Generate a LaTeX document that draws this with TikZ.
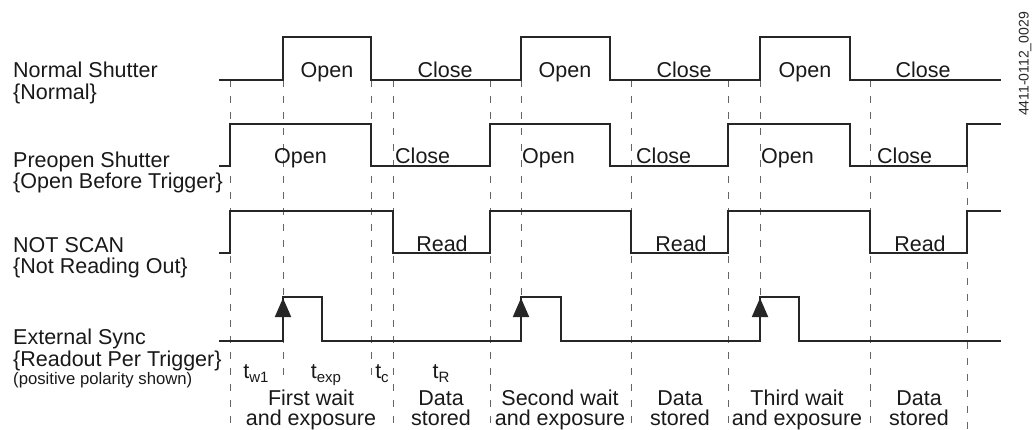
\documentclass[tikz,border=0pt]{standalone}
\usepackage{fontspec}
\setmainfont{Liberation Sans}
\usetikzlibrary{arrows.meta}
\def\tsub#1{t\raisebox{-4pt}{\fontsize{15}{15}\selectfont #1}}
\tikzset{
	sig/.style={line width=1.9pt, color=black!85, line join=miter},
	guide/.style={line width=0.9pt, color=black!60, dash pattern=on 7pt off 9pt},
	txt/.style={inner sep=0pt, anchor=base, text=black!90, font=\fontsize{21.5}{22}\selectfont},
	lefttxt/.style={txt, anchor=base west},
	trig/.style={line width=1.9pt, color=black!85, -{Triangle[length=19pt,width=16pt]}}
}

\begin{document}
\begin{tikzpicture}[x=1pt, y=-1pt]
		%%%%% START %%%%%
		\useasboundingbox (0, 0) rectangle (1032, 429);
		
		% dashed time marks
		\foreach \xm in {230, 393, 490, 631, 728, 870}
			\draw[guide] (\xm, 80) -- (\xm, 429);
		\draw[guide] (967, 166) -- (967, 429);
		\draw[guide] (283, 80) -- (283, 377);
		\draw[guide] (371, 80) -- (371, 377);
		\draw[guide] (521, 80) -- (521, 297);
		\draw[guide] (760, 80) -- (760, 297);
		
		% signals
		\draw[sig] (219, 80) -- (283, 80) -- (283, 37) -- (371, 37) -- (371, 80) -- (521, 80) -- (521, 37) -- (610, 37) -- (610, 80) -- (760, 80) -- (760, 37) -- (850, 37) -- (850, 80) -- (1001, 80);
		\draw[sig] (219, 166) -- (230, 166) -- (230, 124) -- (371, 124) -- (371, 166) -- (490, 166) -- (490, 124) -- (610, 124) -- (610, 166) -- (728, 166) -- (728, 124) -- (850, 124) -- (850, 166) -- (967, 166) -- (967, 124) -- (1001, 124);
		\draw[sig] (219, 253) -- (230, 253) -- (230, 211) -- (393, 211) -- (393, 253) -- (490, 253) -- (490, 211) -- (631, 211) -- (631, 253) -- (728, 253) -- (728, 211) -- (870, 211) -- (870, 253) -- (967, 253) -- (967, 211) -- (1001, 211);
		\draw[sig] (219, 341) -- (283, 341) -- (283, 297) -- (322, 297) -- (322, 341) -- (521, 341) -- (521, 297) -- (561, 297) -- (561, 341) -- (760, 341) -- (760, 297) -- (799, 297) -- (799, 341) -- (1001, 341);
		\foreach \xt in {283, 521, 760}
			\draw[trig] (\xt, 341) -- (\xt, 298);
		
		% row names
		\node[lefttxt] (normal) at (13, 77) {Normal Shutter};
		\node[lefttxt] (normalb) at (13, 99) {\{Normal\}};
		\node[lefttxt] (preopen) at (13, 167) {Preopen Shutter};
		\node[lefttxt] (preopenb) at (13, 188) {\{Open Before Trigger\}};
		\node[lefttxt] (notscan) at (13, 252) {NOT SCAN};
		\node[lefttxt] (notscanb) at (13, 273) {\{Not Reading Out\}};
		\node[lefttxt] (sync) at (13, 344) {External Sync};
		\node[lefttxt] (syncb) at (13, 366) {\{Readout Per Trigger\}};
		\node[lefttxt, font=\fontsize{16.7}{18}\selectfont] (syncc) at (13, 384) {(positive polarity shown)};
		
		% states
		\node[txt] (nopen1) at (327, 77) {Open};
		\node[txt] (nclose1) at (445, 77) {Close};
		\node[txt] (nopen2) at (565, 77) {Open};
		\node[txt] (nclose2) at (684, 77) {Close};
		\node[txt] (nopen3) at (805, 77) {Open};
		\node[txt] (nclose3) at (923, 77) {Close};
		\node[lefttxt] (popen1) at (274, 163) {Open};
		\node[lefttxt] (pclose1) at (395, 163) {Close};
		\node[lefttxt] (popen2) at (522, 163) {Open};
		\node[lefttxt] (pclose2) at (636, 163) {Close};
		\node[lefttxt] (popen3) at (761, 163) {Open};
		\node[lefttxt] (pclose3) at (877, 163) {Close};
		\node[txt] (read1) at (442, 251) {Read};
		\node[txt] (read2) at (681, 251) {Read};
		\node[txt] (read3) at (920, 251) {Read};
		
		% intervals
		\node[txt] (tw) at (256, 378) {\tsub{w1}};
		\node[txt] (texp) at (326, 378) {\tsub{exp}};
		\node[txt] (tc) at (382, 378) {\tsub{c}};
		\node[txt] (tr) at (441, 378) {\tsub{R}};
		\node[txt] (wait1) at (311, 405) {First wait};
		\node[txt] (wait1b) at (311, 425) {and exposure};
		\node[txt] (data1) at (441, 405) {Data};
		\node[txt] (data1b) at (441, 425) {stored};
		\node[txt] (wait2) at (560, 405) {Second wait};
		\node[txt] (wait2b) at (560, 425) {and exposure};
		\node[txt] (data2) at (680, 405) {Data};
		\node[txt] (data2b) at (680, 425) {stored};
		\node[txt] (wait3) at (797, 405) {Third wait};
		\node[txt] (wait3b) at (797, 425) {and exposure};
		\node[txt] (data3) at (919, 405) {Data};
		\node[txt] (data3b) at (919, 425) {stored};
		
		\node[inner sep=0pt, rotate=90, text=black!85, font=\fontsize{14}{15}\selectfont] (figid) at (1025, 64) {4411-0112\_0029};
		%%%%% END %%%%%
\end{tikzpicture}
\end{document}
